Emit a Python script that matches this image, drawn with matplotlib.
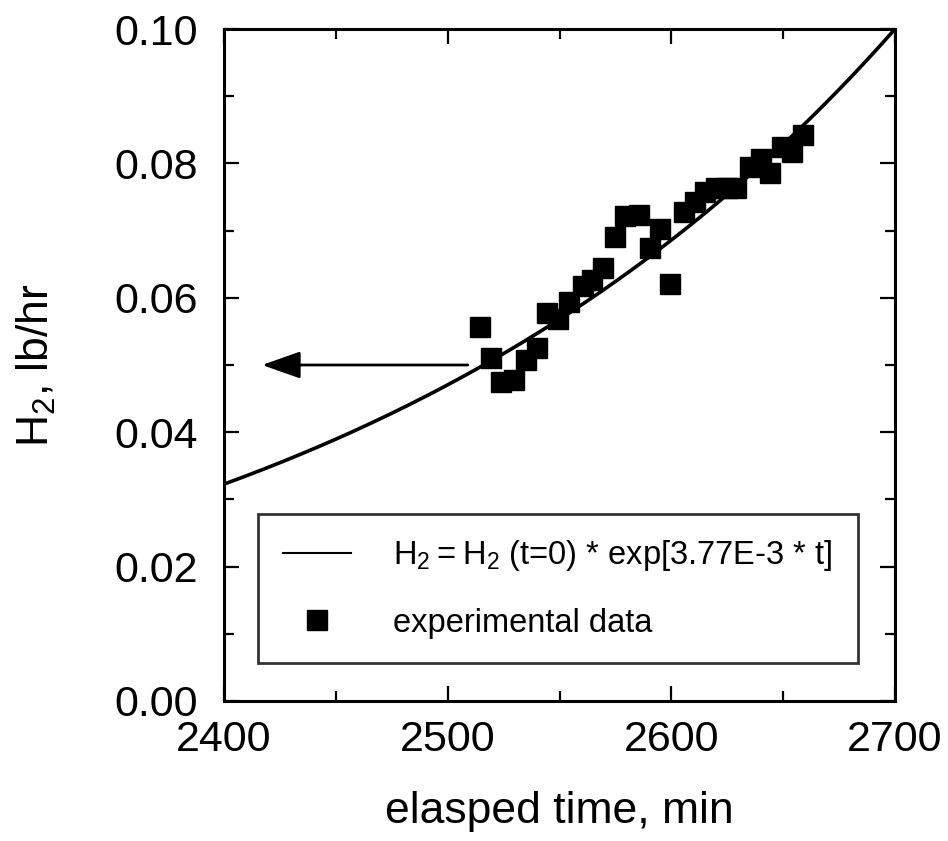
import matplotlib
matplotlib.use("Agg")
import matplotlib.pyplot as plt
import numpy as np
from matplotlib.ticker import MultipleLocator, FormatStrFormatter

time_min = [2514.4, 2519.2, 2524.0, 2529.6, 2535.0, 2539.8, 2544.5, 2549.4,
            2554.3, 2560.3, 2564.7, 2569.5, 2574.8, 2579.3, 2585.7, 2590.4,
            2594.9, 2599.4, 2605.8, 2610.5, 2615.0, 2620.0, 2624.7, 2629.0,
            2635.0, 2640.0, 2644.0, 2649.3, 2653.8, 2658.7]
h2_lb_hr = [0.0557, 0.0510, 0.0475, 0.0478, 0.0507, 0.0525, 0.0577, 0.0569,
            0.0594, 0.0617, 0.0627, 0.0644, 0.0691, 0.0721, 0.0723, 0.0674,
            0.0703, 0.0620, 0.0728, 0.0742, 0.0758, 0.0763, 0.0763, 0.0763,
            0.0795, 0.0807, 0.0785, 0.0825, 0.0817, 0.0842]

# exponential fit, as given in the legend
fit_rate = 3.77e-3      # 1/min
fit_t_ref = 2700.0      # min
fit_h2_ref = 0.100      # lb/hr at fit_t_ref

# arrow pointing at the left axis
arrow_y = 0.050
arrow_tail_t = 2509
arrow_head_t = 2417

plt.rcParams['font.family'] = ['Liberation Sans', 'DejaVu Sans']
plt.rcParams['mathtext.default'] = 'regular'

fig = plt.figure(figsize=(9.48, 8.41), dpi=100)
ax = fig.add_axes([0.2363, 0.1665, 0.7078, 0.799])

t_fit = np.linspace(2400, 2700, 300)
h2_fit = fit_h2_ref * np.exp(fit_rate * (t_fit - fit_t_ref))
ax.plot(t_fit, h2_fit, color='k', lw=2.6,
        label=r'$H_2 = H_2$ (t=0) * exp[3.77E-3 * t]')
ax.plot(time_min, h2_lb_hr, ls='none', marker='s', ms=14.5, color='k',
        label='experimental data')

ax.annotate('', xy=(arrow_head_t, arrow_y), xytext=(arrow_tail_t, arrow_y),
            arrowprops=dict(arrowstyle='-|>,head_length=1.7,head_width=0.6',
                            color='k', lw=2, shrinkA=0, shrinkB=0,
                            mutation_scale=14))

ax.set_xlim(2400, 2700)
ax.set_ylim(0, 0.10)
ax.xaxis.set_major_locator(MultipleLocator(100))
ax.xaxis.set_minor_locator(MultipleLocator(50))
ax.yaxis.set_major_locator(MultipleLocator(0.02))
ax.yaxis.set_minor_locator(MultipleLocator(0.01))
ax.yaxis.set_major_formatter(FormatStrFormatter('%.2f'))
ax.tick_params(which='both', direction='in', top=True, right=True,
               width=1.6, labelsize=31)
ax.tick_params(which='major', length=11)
ax.tick_params(which='minor', length=7)
ax.tick_params(axis='x', which='major', pad=14)
ax.tick_params(axis='y', which='major', pad=19)
for spine in ax.spines.values():
    spine.set_linewidth(2.2)

ax.set_xlabel('elasped time, min', fontsize=32, labelpad=22)
ax.set_ylabel('$H_2$, lb/hr', fontsize=32, labelpad=40)

leg = ax.legend(loc='lower left', bbox_to_anchor=(0.0507, 0.0565, 0.894, 0.232),
                mode='expand', fontsize=23.5, frameon=True, fancybox=False,
                edgecolor='k', handlelength=2.1, handletextpad=1.3,
                borderpad=0.75, labelspacing=1.05, borderaxespad=0)
leg.get_frame().set_linewidth(2)
leg.legend_handles[0].set_linewidth(1.5)

fig.savefig('out.png', dpi=100)
